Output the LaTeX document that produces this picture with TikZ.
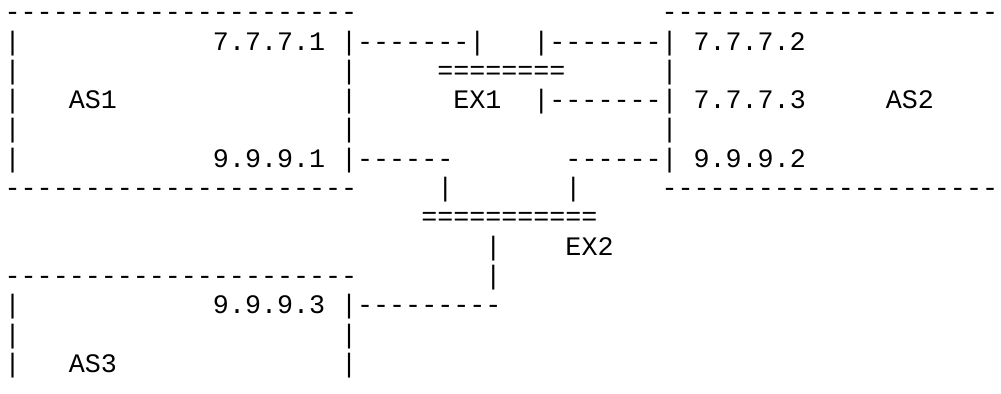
\documentclass[tikz,border=0pt]{standalone}
\usepackage{fontspec}
\setmonofont{Liberation Mono}
\usetikzlibrary{positioning}

\newcommand{\gap}[1]{\hspace*{#1\fontdimen2\font}}

\begin{document}
\begin{tikzpicture}[x=1bp, y=1bp,
    row/.style={anchor=west, inner sep=0pt, outer sep=0pt,
      text height=21.44pt, text depth=5.36pt,
      font=\ttfamily\fontsize{26.8pt}{30pt}\selectfont},
    node distance=29.3bp]
  \path[use as bounding box, fill=white] (0,0) rectangle (1001,-393);

  % AS1 AND AS2 TOP
  \node[row] (ROW_1) at (4.7,-12.7)
    {----------------------\gap{19}---------------------};

  % 7.7.7.x LINKS TO EX1
  \node[row, below=of ROW_1.west, anchor=west] (ROW_2)
    {|\gap{12}7.7.7.1 |-------|\gap{3}|-------| 7.7.7.2};
  \node[row, below=of ROW_2.west, anchor=west] (ROW_3)
    {|\gap{20}|\gap{5}========\gap{6}|};
  \node[row, below=of ROW_3.west, anchor=west] (ROW_4)
    {|\gap{3}AS1\gap{14}|\gap{6}EX1\gap{2}|-------| 7.7.7.3\gap{5}AS2};
  \node[row, below=of ROW_4.west, anchor=west] (ROW_5)
    {|\gap{20}|\gap{19}|};

  % 9.9.9.x LINKS TO EX2
  \node[row, below=of ROW_5.west, anchor=west] (ROW_6)
    {|\gap{12}9.9.9.1 |------\gap{7}------| 9.9.9.2};
  \node[row, below=of ROW_6.west, anchor=west] (ROW_7)
    {----------------------\gap{5}|\gap{7}|\gap{5}---------------------};
  \node[row, below=of ROW_7.west, anchor=west] (ROW_8)
    {\gap{26}===========};
  \node[row, below=of ROW_8.west, anchor=west] (ROW_9)
    {\gap{30}|\gap{4}EX2};

  % AS3
  \node[row, below=of ROW_9.west, anchor=west] (ROW_10)
    {----------------------\gap{8}|};
  \node[row, below=of ROW_10.west, anchor=west] (ROW_11)
    {|\gap{12}9.9.9.3 |---------};
  \node[row, below=of ROW_11.west, anchor=west] (ROW_12)
    {|\gap{20}|};
  \node[row, below=of ROW_12.west, anchor=west] (ROW_13)
    {|\gap{3}AS3\gap{14}|};
\end{tikzpicture}
\end{document}
